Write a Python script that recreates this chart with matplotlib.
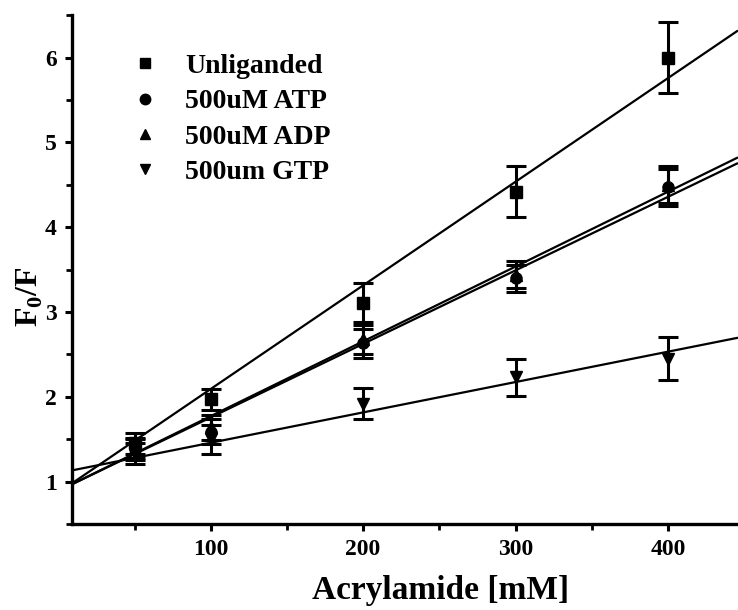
import matplotlib
matplotlib.use("Agg")
import matplotlib.pyplot as plt
import numpy as np
from matplotlib.ticker import MultipleLocator

plt.rcParams['font.family'] = ['Liberation Serif', 'DejaVu Serif']
plt.rcParams['font.weight'] = 'bold'
plt.rcParams['mathtext.fontset'] = 'custom'
plt.rcParams['mathtext.rm'] = 'Liberation Serif:bold'
plt.rcParams['mathtext.bf'] = 'Liberation Serif:bold'

acrylamide = [50, 100, 200, 300, 400]

series_names = ["Unliganded", "500uM ATP", "500uM ADP", "500um GTP"]
markers = ["s", "o", "^", "v"]

unliganded = [1.45, 1.97, 3.11, 4.42, 6.00]
unliganded_err = [0.12, 0.12, 0.23, 0.30, 0.42]
atp = [1.38, 1.59, 2.63, 3.40, 4.47]
atp_err = [0.12, 0.15, 0.17, 0.16, 0.22]
adp = [1.40, 1.64, 2.68, 3.44, 4.50]
adp_err = [0.12, 0.15, 0.17, 0.16, 0.22]
gtp = [1.33, 1.50, 1.92, 2.23, 2.45]
gtp_err = [0.12, 0.17, 0.18, 0.22, 0.25]

values = [unliganded, atp, adp, gtp]
errors = [unliganded_err, atp_err, adp_err, gtp_err]

# fitted line parameters (intercept, slope)
fit_intercepts = [0.87, 0.89, 0.89, 1.10]
fit_slopes = [0.01222, 0.00867, 0.00882, 0.00358]

xticks = [100, 200, 300, 400]
yticks = [1, 2, 3, 4, 5, 6]

fig = plt.figure(figsize=(7.38, 6.10), dpi=100)
ax = fig.add_axes([0.0976, 0.141, 0.9024, 0.834])
xlim = (9, 446)
ax.set_xlim(*xlim)
ax.set_ylim(0.5, 6.5)

xs = np.array(xlim)
for b, m in zip(fit_intercepts, fit_slopes):
    ax.plot(xs, b + m * xs, color='black', lw=1.6, zorder=2, solid_capstyle='butt')

for name, mk, v, e in zip(series_names, markers, values, errors):
    ax.errorbar(acrylamide, v, yerr=e, fmt=mk, color='black', ms=8,
                elinewidth=2.2, capsize=7, capthick=2.2, zorder=3)
    ax.plot([], [], mk, color='black', ms=7.5, label=name)

ax.spines['top'].set_visible(False)
ax.spines['right'].set_visible(False)
ax.spines['left'].set_linewidth(2.4)
ax.spines['bottom'].set_linewidth(2.4)

ax.set_xticks(xticks)
ax.set_yticks(yticks)
ax.xaxis.set_minor_locator(MultipleLocator(50))
ax.yaxis.set_minor_locator(MultipleLocator(0.5))
ax.tick_params(which='major', direction='out', length=5, width=2.2, pad=6, labelsize=17)
ax.tick_params(which='minor', direction='out', length=4, width=2)

ax.set_xlabel("Acrylamide [mM]", fontsize=24, fontweight='bold', va='center', ha='center')
ax.xaxis.set_label_coords(0.554, -0.13)
ax.set_ylabel(r"F$_\mathbf{0}$/F", fontsize=23, fontweight='bold', va='center', ha='center')
ax.yaxis.set_label_coords(-0.063, 0.448)

leg = ax.legend(loc='upper left', bbox_to_anchor=(0.0886, 0.925), frameon=False,
                prop={'family': 'Liberation Serif', 'weight': 'bold', 'size': 20},
                handletextpad=0.94, labelspacing=0.36, handlelength=1.0,
                borderpad=0, borderaxespad=0)

fig.savefig("out.png", dpi=100)
